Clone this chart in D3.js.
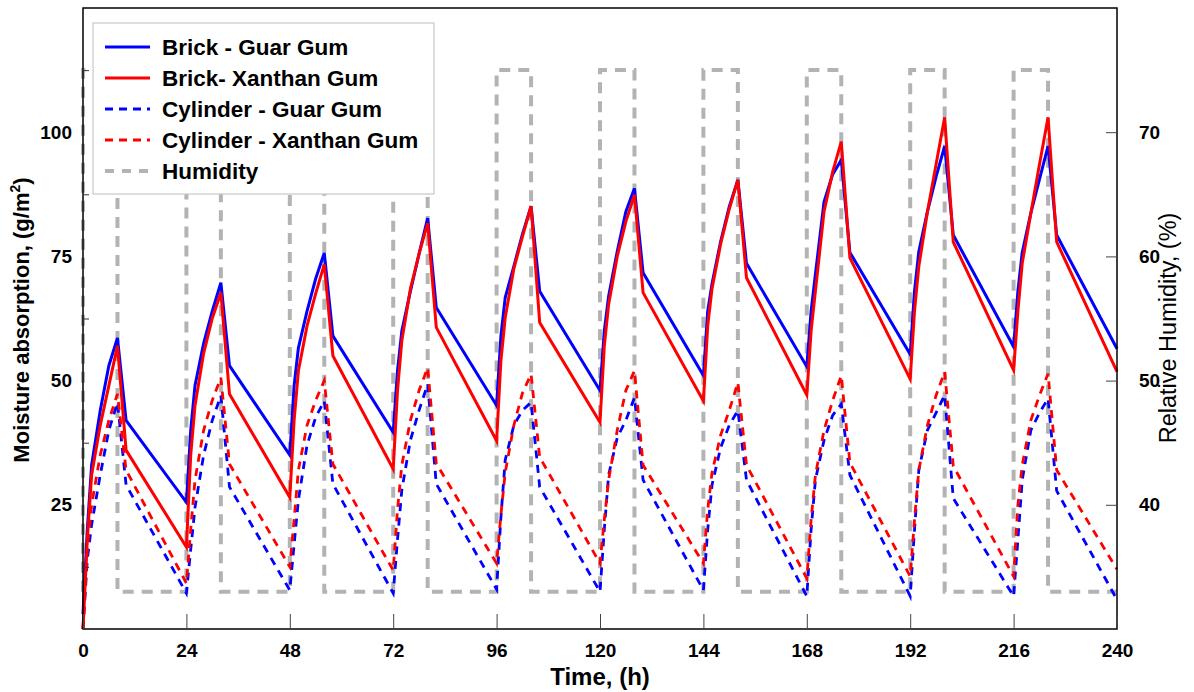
<!DOCTYPE html>
<html><head><meta charset="utf-8">
<script src="https://cdn.jsdelivr.net/npm/d3@7"></script>
<style>body{margin:0;background:#fff}svg{display:block}text{font-family:"Liberation Sans",Arial,sans-serif}</style>
</head><body><svg id="c" width="1194" height="692"></svg>
<script>
const time = [0,1,2,4,6,8,10, 24,25,26,28,30,32,34, 48,49,50,52,54,56,58, 72,73,74,76,78,80,82, 96,97,98,100,102,104,106, 120,121,122,124,126,128,130, 144,145,146,148,150,152,154, 168,169,170,172,174,176,178, 192,193,194,196,198,200,202, 216,217,218,220,222,224,226, 240];
const brickGuar = [3,20,33,44,53,58.6,42, 25.5,40,49,57.5,64,69.7,53, 35,49,56.6,64,70.5,75.7,59, 39.6,52,60,68,75.5,82.7,64.7, 45,59,66.7,73,79.5,85.1,68, 48,60,67,76,84,88.7,71.7, 51,64,69.5,78,85,90.4,73.6, 52.8,64,71.4,86,91.5,94.4,75.8, 55.3,68,76,84,91,97.2,79.3, 56.8,68,75.8,83.7,90.5,97.2,79.3, 56.4];
const brickXanthan = [0,18,31,41,49,57,36, 16.5,35,45,55.5,62.5,67.7,47.3, 26.5,42,52,61,67.5,73.4,55, 32.2,48,58,68.5,75.5,81.7,60.7, 37.9,54,62.7,72.5,79,85.1,61.7, 41.6,57,65.3,75,82,87.4,67.7, 45.9,61,68.5,77.5,84.5,90.4,70.7, 47.1,60,68,84,92,98.1,74.7, 50.3,64,73,84,93.5,103,77.9, 52.1,64,73.6,83.7,93.5,103,77.9, 51.8];
const cylGuar = [0,14,21,31,40,45.6,29, 7.2,16,24.5,35,42,47,28.6, 7.8,17,26,37,42.6,45.9,29.2, 7.2,18,28,38,44,49.3,29.2, 8,22.5,34,41,44,45.6,28.6, 7.5,20,31,38.5,42,46.6,30, 7.8,20,29,36.5,41,44,30, 6.6,20,30,38,43,45.3,31, 6.6,20,32,40,43.5,47.1,26.3, 6.6,18,30,40,43.5,46.4,27.8, 5.9];
const cylXanthan = [0,16,25,35,42,47.3,32, 9.2,20,30,40,46,50.6,33.2, 12.5,22,32,41,46,50,33.2, 11.8,24,33,42,48,52.6,33.3, 13.2,23,31.5,41,47.5,51.3,34.6, 13.2,22,30,40,48,52,33, 13.2,24,31.5,39,44,49.6,33, 10.2,22,31,40,46,51,33.5, 10.6,22,32,41,47,51.8,32.8, 10.6,25,33,42,47,51.4,32, 12];
const humTime = [0,0,8,8, 24,24,32,32, 48,48,56,56, 72,72,80,80, 96,96,104,104, 120,120,128,128, 144,144,152,152, 168,168,176,176, 192,192,200,200, 216,216,224,224, 240];
const humRH = [33,75,75,33, 33,75,75,33, 33,75,75,33, 33,75,75,33, 33,75,75,33, 33,75,75,33, 33,75,75,33, 33,75,75,33, 33,75,75,33, 33,75,75,33, 33];
const xTicks = [0,24,48,72,96,120,144,168,192,216,240];
const yTicksLeft = [25,50,75,100];
const yMinorLeft = [12.5,37.5,62.5,87.5,112.5];
const yTicksRight = [40,50,60,70];
const seriesNames = ["Brick - Guar Gum","Brick- Xanthan Gum","Cylinder - Guar Gum","Cylinder - Xanthan Gum","Humidity"];

const L=83,R=1117,T=8,B=629;
const svg=d3.select("#c");
const x=d3.scaleLinear().domain([0,240]).range([L,R]);
const yL=d3.scaleLinear().domain([0,125]).range([B,T]);
const yR=d3.scaleLinear().domain([30,80]).range([B,T]);

const styles=[
  {data:brickGuar,color:"#0000ff",dash:null},
  {data:brickXanthan,color:"#ff0000",dash:null},
  {data:cylGuar,color:"#0000ff",dash:"8,6.5"},
  {data:cylXanthan,color:"#ff0000",dash:"8,6.5"}
];
const humStyle={color:"#b3b3b3",dash:"11,8",w:4};

const hl=d3.line().x(d=>x(d[0])).y(d=>yR(d[1]));
svg.append("path").attr("d",hl(humTime.map((t,i)=>[t,humRH[i]])))
  .attr("fill","none").attr("stroke",humStyle.color).attr("stroke-width",humStyle.w).attr("stroke-dasharray",humStyle.dash);

const ml=d3.line().x(d=>x(d[0])).y(d=>yL(d[1]));
[2,3,0,1].forEach(i=>{
  const s=styles[i];
  const p=svg.append("path").attr("d",ml(time.map((t,j)=>[t,s.data[j]])))
    .attr("fill","none").attr("stroke",s.color).attr("stroke-width",s.dash?2.8:3).attr("stroke-linejoin","miter");
  if(s.dash)p.attr("stroke-dasharray",s.dash);
});

svg.append("rect").attr("x",L).attr("y",T).attr("width",R-L).attr("height",B-T).attr("fill","none").attr("stroke","#000").attr("stroke-width",1.5);

const xa=d3.axisBottom(x).tickValues(xTicks).tickSize(-15).tickPadding(15).tickFormat(d3.format("d"));
const gx=svg.append("g").attr("transform",`translate(0,${B})`).call(xa);
gx.select(".domain").remove();
gx.selectAll("line").attr("stroke","#444");
gx.selectAll("text").attr("font-size",19).attr("font-weight","bold").attr("fill","#000").attr("font-family","Liberation Sans, Arial");

const ya=d3.axisLeft(yL).tickValues(yTicksLeft).tickSize(0).tickPadding(11).tickFormat(d3.format("d"));
const gy=svg.append("g").attr("transform",`translate(${L},0)`).call(ya);
gy.select(".domain").remove();
gy.selectAll("text").attr("font-size",19).attr("font-weight","bold").attr("fill","#000").attr("font-family","Liberation Sans, Arial");
const ym=d3.axisLeft(yL).tickValues(yMinorLeft).tickSize(-6).tickFormat("");
const gym=svg.append("g").attr("transform",`translate(${L},0)`).call(ym);
gym.select(".domain").remove(); gym.selectAll("line").attr("stroke","#333");

const yra=d3.axisRight(yR).tickValues(yTicksRight).tickSize(-11).tickPadding(22).tickFormat(d3.format("d"));
const gr=svg.append("g").attr("transform",`translate(${R},0)`).call(yra);
gr.select(".domain").remove();
gr.selectAll("line").attr("stroke","#444");
gr.selectAll("text").attr("font-size",19).attr("font-weight","bold").attr("fill","#000").attr("font-family","Liberation Sans, Arial");

svg.append("text").attr("x",(L+R)/2).attr("y",685).attr("text-anchor","middle").attr("font-size",24).attr("font-weight","bold").text("Time, (h)");
const lt=svg.append("text").attr("transform","translate(29,320) rotate(-90)").attr("text-anchor","middle").attr("font-size",22).attr("font-weight","bold");
lt.append("tspan").text("Moisture absorption, (g/m");
lt.append("tspan").attr("font-size",14).attr("dy",-9).text("2");
lt.append("tspan").attr("dy",9).text(")");
svg.append("text").attr("transform","translate(1176,328) rotate(-90)").attr("text-anchor","middle").attr("font-size",23.5).text("Relative Humidity, (%)");

const lg=svg.append("g");
lg.append("rect").attr("x",93).attr("y",23).attr("width",341).attr("height",171).attr("fill","#fff").attr("stroke","#c8c8c8").attr("stroke-width",1.2);
const legStyles=[...styles,{color:humStyle.color,dash:"10,8",w:4}];
seriesNames.forEach((n,i)=>{
  const yy=47+i*31;
  const s=legStyles[i];
  const ln=lg.append("line").attr("x1",105).attr("x2",150).attr("y1",yy).attr("y2",yy).attr("stroke",s.color).attr("stroke-width",s.w||3);
  if(s.dash) ln.attr("stroke-dasharray",i===4?"9,8":"8,6");
  lg.append("text").attr("x",162).attr("y",yy).attr("dy","0.36em").attr("font-size",22.5).attr("font-weight","bold").text(n);
});
</script></body></html>
